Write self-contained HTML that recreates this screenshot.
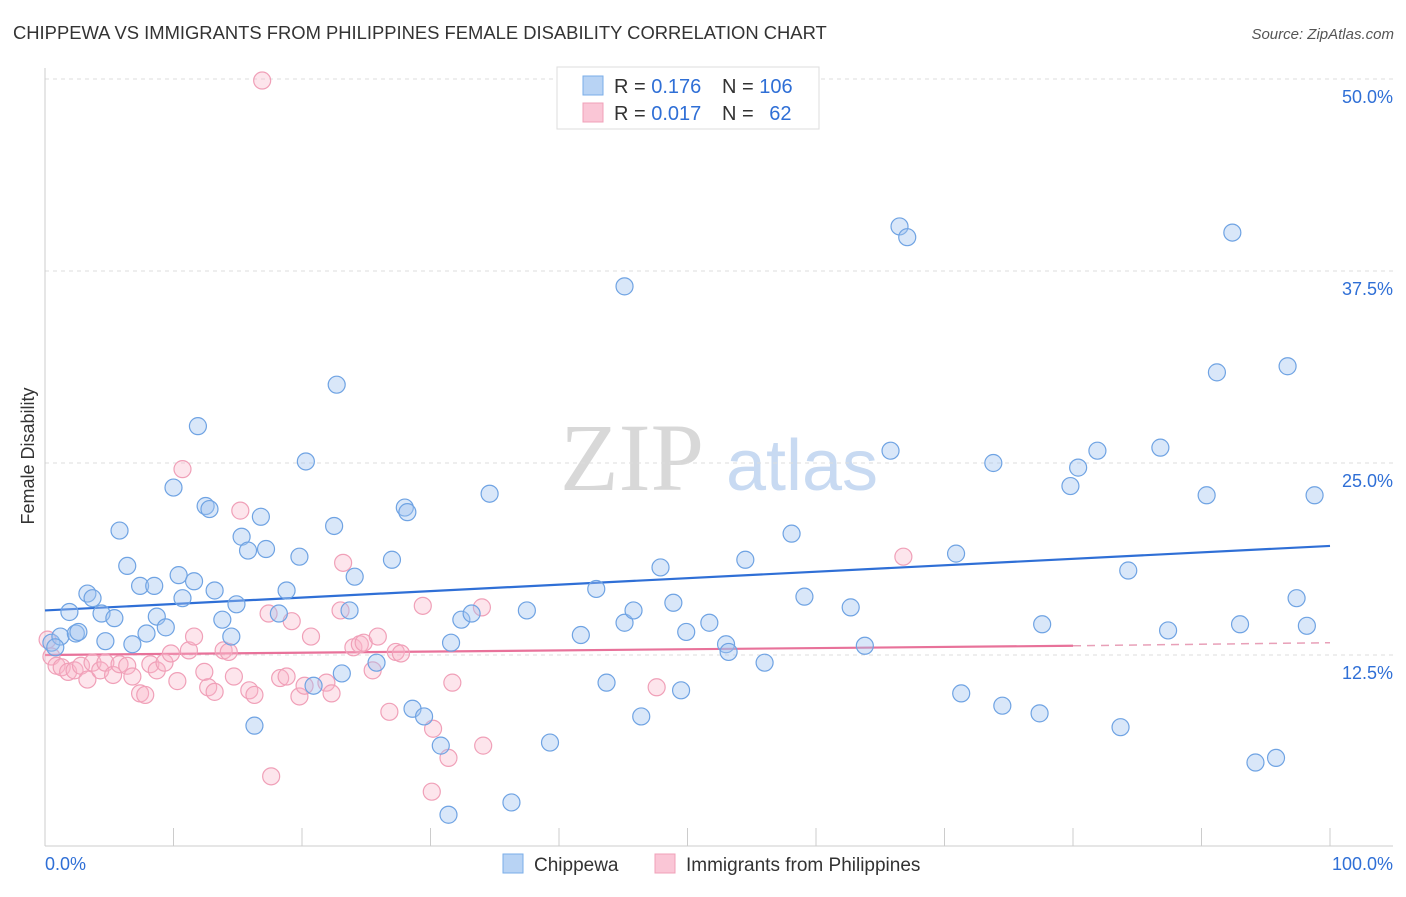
<!DOCTYPE html>
<html><head><meta charset="utf-8"><style>
body{margin:0;background:#fff;width:1406px;height:892px;overflow:hidden;font-family:"Liberation Sans",sans-serif}
</style></head><body>
<svg id="chart" width="1406" height="892" xmlns="http://www.w3.org/2000/svg" font-family="Liberation Sans, sans-serif">
<text x="13" y="39" font-size="18.4" fill="#333">CHIPPEWA VS IMMIGRANTS FROM PHILIPPINES FEMALE DISABILITY CORRELATION CHART</text>
<text x="1394" y="39" font-size="15" fill="#555" font-style="italic" text-anchor="end">Source: ZipAtlas.com</text>
<g>
<text x="632" y="490" font-size="96" font-family="Liberation Serif, serif" fill="#d8d8d8" text-anchor="middle">ZIP</text>
<text x="802" y="490" font-size="72" fill="#c8daf2" text-anchor="middle">atlas</text>
</g>
<g id="grid"></g>
<g id="axes"></g>
<g id="trends"></g>
<g id="pts"></g>
<text transform="translate(34,456) rotate(-90)" font-size="18" fill="#333" text-anchor="middle">Female Disability</text>
<g>
<rect x="557" y="67" width="262" height="62" fill="#fff" stroke="#ddd"/>
<rect x="583" y="76" width="20" height="19" fill="#b8d3f4" stroke="#7aaee8"/>
<rect x="583" y="103" width="20" height="19" fill="#fac6d6" stroke="#f0a0b8"/>
<text x="614" y="93" font-size="20" fill="#333">R = <tspan fill="#2f6fd6">0.176</tspan></text>
<text x="722" y="93" font-size="20" fill="#333">N = <tspan fill="#2f6fd6">106</tspan></text>
<text x="614" y="120" font-size="20" fill="#333">R = <tspan fill="#2f6fd6">0.017</tspan></text>
<text x="722" y="120" font-size="20" fill="#333">N = <tspan fill="#2f6fd6" dx="10">62</tspan></text>
</g>
<g>
<rect x="503" y="854" width="20" height="19" fill="#b8d3f4" stroke="#7aaee8"/>
<text x="534" y="871" font-size="19" fill="#333">Chippewa</text>
<rect x="655" y="854" width="20" height="19" fill="#fac6d6" stroke="#f0a0b8"/>
<text x="686" y="871" font-size="19" fill="#333">Immigrants from Philippines</text>
</g>
</svg>
<script>
const blueX=[0.5,1.2,0.8,1.9,2.4,2.6,3.3,3.7,4.4,4.7,5.4,5.8,6.4,6.8,7.4,7.9,8.5,8.7,9.4,10.0,10.4,10.7,11.6,11.9,12.5,12.8,13.2,13.8,14.5,14.9,15.3,15.8,16.3,16.8,17.2,18.2,18.8,19.8,20.3,20.9,22.5,22.7,23.1,23.7,24.1,25.8,27.0,28.0,28.2,28.6,29.5,30.8,31.4,31.6,32.4,33.2,34.6,36.3,37.5,39.3,41.7,42.9,43.7,45.1,45.1,45.8,46.4,47.9,48.9,49.5,49.9,51.7,53.0,53.2,54.5,56.0,58.1,59.1,62.7,63.8,65.8,66.5,67.1,70.9,71.3,73.8,74.5,77.4,77.6,79.8,80.4,81.9,83.7,84.3,86.8,87.4,90.4,91.2,92.4,93.0,94.2,95.8,96.7,97.4,98.2,98.8];
const blueY=[13.3,13.7,13.0,15.3,13.9,14.0,16.5,16.2,15.2,13.4,14.9,20.6,18.3,13.2,17.0,13.9,17.0,15.0,14.3,23.4,17.7,16.2,17.3,27.4,22.2,22.0,16.7,14.8,13.7,15.8,20.2,19.3,7.9,21.5,19.4,15.2,16.7,18.9,25.1,10.5,20.9,30.1,11.3,15.4,17.6,12.0,18.7,22.1,21.8,9.0,8.5,6.6,2.1,13.3,14.8,15.2,23.0,2.9,15.4,6.8,13.8,16.8,10.7,14.6,36.5,15.4,8.5,18.2,15.9,10.2,14.0,14.6,13.2,12.7,18.7,12.0,20.4,16.3,15.6,13.1,25.8,40.4,39.7,19.1,10.0,25.0,9.2,8.7,14.5,23.5,24.7,25.8,7.8,18.0,26.0,14.1,22.9,30.9,40.0,14.5,5.5,5.8,31.3,16.2,14.4,22.9];
const pinkX=[0.2,0.5,0.9,1.3,1.8,2.3,2.8,3.3,3.7,4.3,4.7,5.3,5.8,6.4,6.8,7.4,7.8,8.2,8.7,9.3,9.8,10.3,10.7,11.2,11.6,12.4,12.7,13.2,13.9,14.3,14.7,15.2,15.9,16.3,16.9,17.4,17.6,18.3,18.8,19.2,19.8,20.2,20.7,21.9,22.3,23.0,23.2,24.0,24.5,24.8,25.5,25.9,26.8,27.3,27.7,29.4,30.1,30.2,31.4,31.7,34.0,34.1,47.6,66.8];
const pinkY=[13.5,12.4,11.8,11.7,11.4,11.5,11.8,10.9,12.0,11.5,12.0,11.2,11.9,11.8,11.1,10.0,9.9,11.9,11.5,12.0,12.6,10.8,24.6,12.8,13.7,11.4,10.4,10.1,12.8,12.7,11.1,21.9,10.2,9.9,49.9,15.2,4.6,11.0,11.1,14.7,9.8,10.5,13.7,10.7,10.0,15.4,18.5,13.0,13.2,13.3,11.5,13.7,8.8,12.7,12.6,15.7,3.6,7.7,5.8,10.7,15.6,6.6,10.4,18.9];
const blueTrend=[15.4,19.6];
const pinkTrend=[12.5,13.1,13.3];
const yTicks=[12.5,25.0,37.5,50.0];
const xTickLabels=["0.0%","100.0%"];
const NS="http://www.w3.org/2000/svg";
const sx=v=>45+v*12.85, sy=v=>847-v*15.36;
function mk(tag,attrs,parent){const e=document.createElementNS(NS,tag);for(const k in attrs)e.setAttribute(k,attrs[k]);parent.appendChild(e);return e;}
const grid=document.getElementById('grid'),axes=document.getElementById('axes'),tr=document.getElementById('trends'),pts=document.getElementById('pts');
yTicks.forEach(t=>{const l=mk('line',{x1:45,x2:1393,y1:sy(t),y2:sy(t),stroke:'#ddd','stroke-dasharray':'4,4'},grid);


const tx=mk('text',{x:1393,y:sy(t)+24,'font-size':18,fill:'#2f6fd6','text-anchor':'end'},grid);tx.textContent=t.toFixed(1)+'%';

});
mk('line',{x1:45,x2:45,y1:68,y2:846,stroke:'#ccc'},axes);
mk('line',{x1:45,x2:1393,y1:846,y2:846,stroke:'#ccc'},axes);
for(let i=0;i<=10;i++){const t=mk('line',{x1:sx(i*10),x2:sx(i*10),y1:828,y2:846,stroke:'#ccc'},axes);

}
const xl0=mk('text',{x:45,y:870,'font-size':18,fill:'#2f6fd6'},axes);xl0.textContent=xTickLabels[0];


const xl1=mk('text',{x:1393,y:870,'font-size':18,fill:'#2f6fd6','text-anchor':'end'},axes);xl1.textContent=xTickLabels[1];


pinkX.forEach((x,i)=>{const c=mk('circle',{cx:sx(x),cy:sy(pinkY[i]),r:8.5,fill:'rgba(248,180,200,0.35)',stroke:'#f0a0b8','stroke-width':1.2},pts);

});
blueX.forEach((x,i)=>{const c=mk('circle',{cx:sx(x),cy:sy(blueY[i]),r:8.5,fill:'rgba(160,196,240,0.4)',stroke:'#6fa3e3','stroke-width':1.2},pts);

});
const bl=mk('line',{x1:sx(0),y1:sy(blueTrend[0]),x2:sx(100),y2:sy(blueTrend[1]),stroke:'#2f6fd6','stroke-width':2.2},tr);


const pl=mk('line',{x1:sx(0),y1:sy(pinkTrend[0]),x2:sx(80),y2:sy(pinkTrend[1]),stroke:'#e8729a','stroke-width':2.2},tr);


const pd=mk('line',{x1:sx(80),y1:sy(pinkTrend[1]),x2:sx(100),y2:sy(pinkTrend[2]),stroke:'#e8a0b8','stroke-width':1.5,'stroke-dasharray':'8,6'},tr);


</script>
</body></html>
